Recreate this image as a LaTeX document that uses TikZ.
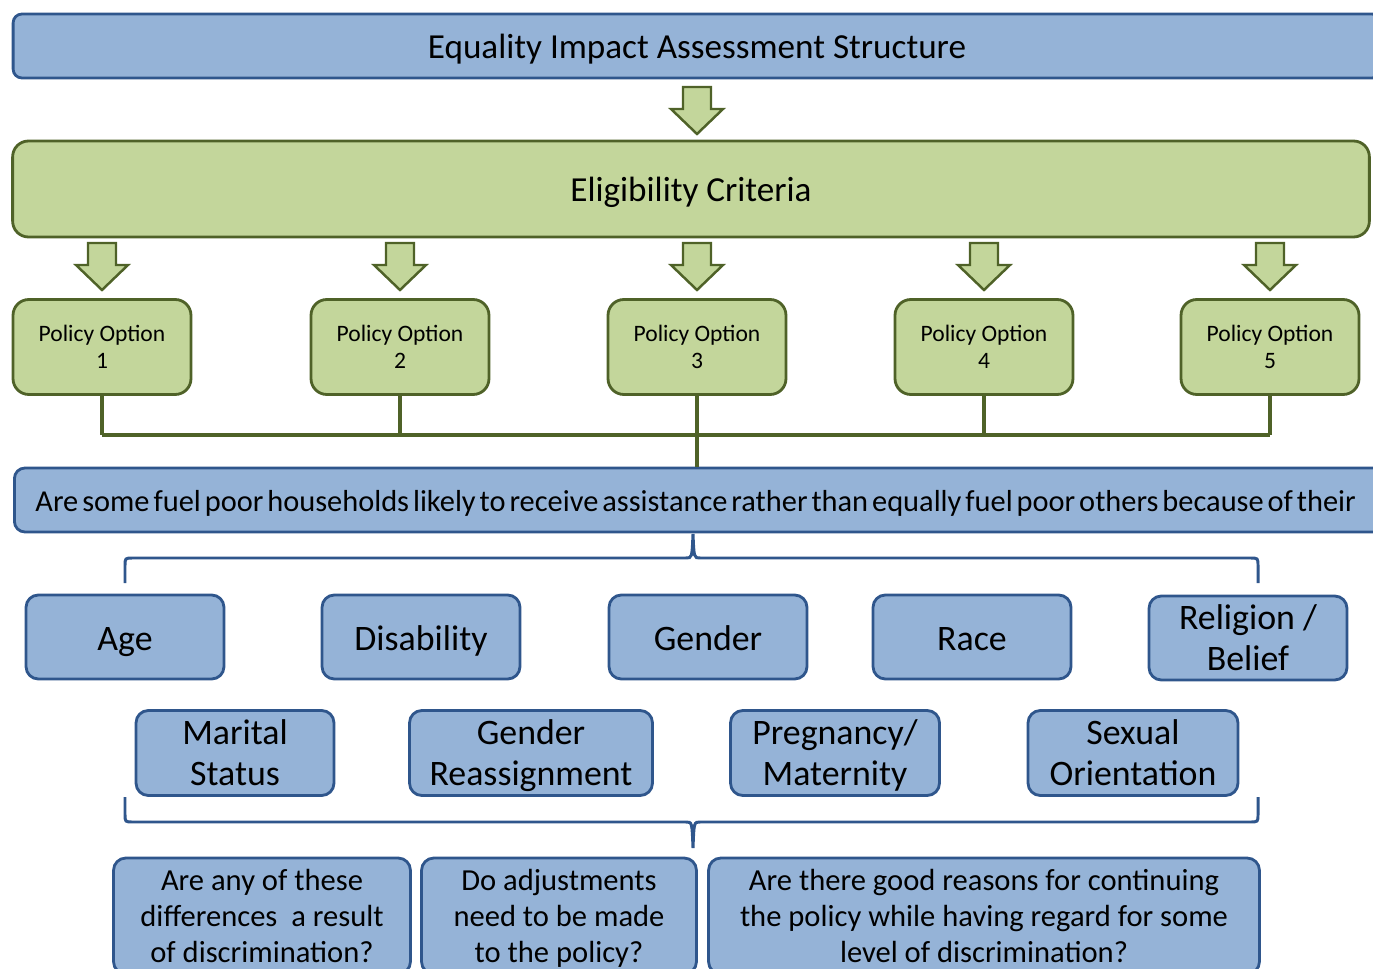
\documentclass[tikz,border=0pt]{standalone}
\usepackage{fontspec}
\setmainfont{Carlito}
\definecolor{bfill}{RGB}{149,179,215}
\definecolor{bdark}{RGB}{47,86,140}
\definecolor{gfill}{RGB}{195,214,155}
\definecolor{gdark}{RGB}{79,98,40}
\newcommand{\dnarrow}[2]{\filldraw[garrow] (#1-14,#2) -- (#1+14,#2) -- (#1+14,#2+22) -- (#1+26,#2+22) -- (#1,#2+47) -- (#1-26,#2+22) -- (#1-14,#2+22) -- cycle;}
\newcommand{\tstrut}{\rule[-0.22em]{0pt}{1.18em}}
\newcommand{\fl}{\rule{0pt}{0.9em}}
\tikzset{
  bbox/.style={draw=bdark, fill=bfill, line width=1.6pt, rounded corners=7pt, align=center, inner sep=2pt, execute at begin node=\tstrut, execute at end node=\tstrut},
  gbox/.style={draw=gdark, fill=gfill, line width=1.6pt, rounded corners=9pt, align=center, inner sep=2pt, execute at begin node=\tstrut, execute at end node=\tstrut},
  catbox/.style={bbox, inner ysep=0pt, minimum height=1.68cm, font=\fontsize{20.4}{23.4}\selectfont},
  pbox/.style={gbox, minimum width=3.56cm, minimum height=1.9cm, font=\fontsize{13.4}{15.9}\selectfont},
  qbox/.style={bbox, minimum height=2.32cm, font=\fontsize{17.4}{20.4}\selectfont},
  garrow/.style={draw=gdark, fill=gfill, line width=1.4pt, line join=miter},
  gline/.style={draw=gdark, line width=2.2pt},
  bline/.style={draw=bdark, line width=1.7pt}
}
\begin{document}
\begin{tikzpicture}[x=0.02cm,y=-0.02cm]
\useasboundingbox (0,0) rectangle (1373,969);
\clip (0,0) rectangle (1373,969);
% structure and criteria
\node[bbox, minimum width=27.36cm, minimum height=1.28cm, rounded corners=5pt, font=\fontsize{20}{24}\selectfont] (title) at (697,46) {Equality Impact Assessment Structure};
\dnarrow{697}{87}
\node[gbox, minimum width=27.14cm, minimum height=1.92cm, font=\fontsize{20}{24}\selectfont] (elig) at (691,189) {Eligibility Criteria};
% policy options
\foreach \x/\n in {102/1,400/2,697/3,984/4,1270/5} {
  \dnarrow{\x}{243}
  \node[pbox] (po\n) at (\x,347) {\fl Policy Option\\\n};
}
\coordinate (bus) at (697,435);
\foreach \n in {1,...,5} \draw[gline] (po\n.south) -- (po\n.south |- bus);
\draw[gline] (po1.south |- bus) -- (po5.south |- bus);
\node[bbox, anchor=west, text width=27.8cm, align=left, inner xsep=0.42cm, minimum height=1.28cm, rounded corners=6pt, font=\fontsize{17.3}{18}\selectfont] (quest) at (13,500) {\spaceskip=0.13em Are some fuel poor households likely to receive assistance rather than equally fuel poor others because of their};
\draw[gline] (bus) -- (quest.north -| bus);
% upper brace
\draw[bline] (125,583) -- (125,566) .. controls (125,558) .. (133,558) -- (686,558) .. controls (692,558) .. (693,534) .. controls (694,558) .. (700,558) -- (1250,558) .. controls (1258,558) .. (1258,566) -- (1258,583);
% characteristics
\node[catbox, minimum width=3.96cm] (age) at (125,637) {Age};
\node[catbox, minimum width=3.96cm] (dis) at (421,637) {Disability};
\node[catbox, minimum width=3.96cm] (gen) at (708,637) {Gender};
\node[catbox, minimum width=3.96cm] (race) at (972,637) {Race};
\node[catbox, minimum width=3.96cm] (rel) at (1248,638) {\fl Religion /\\Belief};
\node[catbox, minimum width=3.96cm, minimum height=1.7cm] (mar) at (235,753) {\fl Marital\\Status};
\node[catbox, minimum width=4.86cm, minimum height=1.7cm] (greas) at (531,753) {\fl Gender\\Reassignment};
\node[catbox, minimum width=4.18cm, minimum height=1.7cm] (preg) at (835,753) {\fl Pregnancy/\\Maternity};
\node[catbox, minimum width=4.2cm, minimum height=1.7cm] (sex) at (1133,753) {\fl Sexual\\Orientation};
% lower brace
\draw[bline] (125,797) -- (125,814) .. controls (125,822) .. (133,822) -- (686,822) .. controls (692,822) .. (693,848) .. controls (694,822) .. (700,822) -- (1250,822) .. controls (1258,822) .. (1258,814) -- (1258,797);
% questions
\node[qbox, minimum width=5.94cm] (qa) at (262,916) {\fl Are any of these\\differences~ a result\\of discrimination?};
\node[qbox, minimum width=5.5cm] (qb) at (559,916) {\fl Do adjustments\\need to be made\\to the policy?};
\node[qbox, minimum width=11.02cm] (qc) at (984,916) {\fl Are there good reasons for continuing\\the policy while having regard for some\\level of discrimination?};
\end{tikzpicture}
\end{document}
